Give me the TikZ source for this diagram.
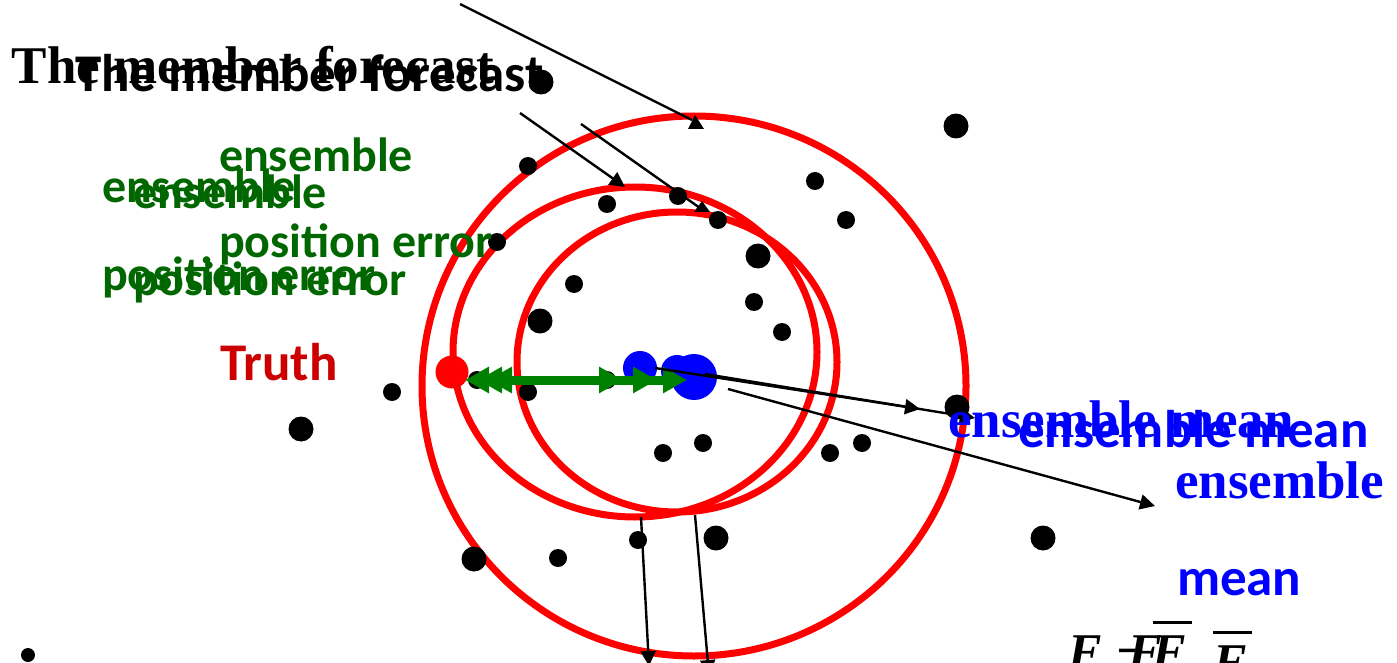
\documentclass[tikz,border=0pt]{standalone}
\usepackage{fontspec}
\setmainfont{Liberation Serif}
\newfontfamily\calfont{Carlito}
\usetikzlibrary{arrows.meta}
\definecolor{tgreen}{RGB}{0,102,0}
\definecolor{agreen}{RGB}{0,128,0}
\definecolor{truthred}{RGB}{204,0,0}
\definecolor{cred}{RGB}{255,0,0}
\definecolor{cblue}{RGB}{0,0,255}
\begin{document}
\begin{tikzpicture}[x=1pt,y=-1pt,
  every node/.style={inner sep=0pt,outer sep=0pt,anchor=base west},
  tms/.style={font=\fontsize{53}{53}\selectfont\bfseries},
  cal/.style={font=\fontsize{53}{53}\selectfont\calfont\bfseries},
  calg/.style={font=\fontsize{48}{48}\selectfont\calfont\bfseries,text=tgreen},
  mth/.style={font=\fontsize{50}{50}\selectfont\bfseries\itshape},
  ring/.style={draw=cred,line width=7pt},
  blk/.style={draw=black,line width=2.4pt},
  blkarr/.style={blk,-{Triangle[length=15pt,width=15pt]}},
  garr/.style={draw=agreen,line width=9pt,{Triangle[length=24pt,width=25pt]}-{Triangle[length=24pt,width=25pt]}}
]
\useasboundingbox (0,0) rectangle (1397,663);
\clip (0,0) rectangle (1397,663);

% red rings
\draw[ring] (694,386) ellipse [x radius=272, y radius=270];
\draw[ring] (635,352) ellipse [x radius=182, y radius=165];
\draw[ring] (677,362) ellipse [x radius=160, y radius=150];

% black arrows
\coordinate (a1s) at (460,4);   \coordinate (a1e) at (692,120);
\coordinate (a2s) at (520,113); \coordinate (a2e) at (625,187);
\coordinate (a3s) at (581,124); \coordinate (a3e) at (700,208);
\coordinate (a4s) at (655,368); \coordinate (a4e) at (920,409);
\coordinate (a4bs) at (705,374); \coordinate (a4be) at (975,418);
\coordinate (a5s) at (728,389); \coordinate (a5e) at (1155,506);
\coordinate (a6s) at (641,517); \coordinate (a6e) at (649,666);
\coordinate (a7s) at (695,515); \coordinate (a7e) at (709,675);
\draw[blk] (a1s) -- (a1e);
\fill (688,129) -- (704,129) -- (695,115) -- cycle;
\draw[blkarr] (a2s) -- (a2e);
\draw[blk] (a3s) -- (a3e);
\fill (694,212) -- (710,212) -- (702,201) -- cycle;
\draw[blkarr] (a5s) -- (a5e);
\draw[blkarr] (a6s) -- (a6e);
\draw[blkarr] (a7s) -- (a7e);

% black dots
\foreach \x/\y in {541/82,956/126,758/256,540/321,301/429,957/407,474/559,716/538,1043/538}
  \fill (\x,\y) circle (12.5);
\foreach \x/\y in {528/166,607/204,678/196,718/220,815/181,846/220,497/242,574/284,754/302,782/332,392/392,528/392,607/380,477/380,663/453,703/443,830/453,862/443,638/540,558/558}
  \fill (\x,\y) circle (9);
\fill (28,655) circle (7);

% blue dots
\fill[cblue] (640,368) circle (17);
\fill[cblue] (677,371) circle (16);
\fill[cblue] (694,377) circle (23);

% truth dot
\fill[cred] (452,372) circle (16.5);

% green double arrows
\coordinate (g1l) at (465,380); \coordinate (g1r) at (623,380);
\coordinate (g2l) at (478,380); \coordinate (g2r) at (657,380);
\coordinate (g3l) at (488,380); \coordinate (g3r) at (687,380);
\draw[garr] (g1l) -- (g1r);
\draw[garr] (g2l) -- (g2r);
\draw[garr] (g3l) -- (g3r);

% arrows from the mean
\draw[blkarr] (a4s) -- (a4e);
\draw[blkarr] (a4bs) -- (a4be);

% texts
\node[tms] (tmf1) at (12,84) {The member forecast};
\node[cal] (tmf2) at (75,92) {The member forecast};
\node[calg] (ens1) at (219,172) {ensemble};
\node[calg] (ens2) at (102,203) {ensemble};
\node[calg] (ens3) at (133,208) {ensemble};
\node[calg] (pe1) at (219,257) {position error};
\node[calg] (pe2) at (102,290) {position error};
\node[calg] (pe3) at (133,295) {position error};
\node[cal,text=truthred,font=\fontsize{53}{53}\selectfont\calfont\bfseries] (truth) at (220,380) {Truth};
\node[tms,text=cblue] (em1) at (948,437) {ensemble mean};
\node[cal,text=cblue] (em2) at (1018,447) {ensemble mean};
\node[tms,text=cblue] (em3) at (1175,498) {ensemble};
\node[cal,text=cblue] (em4) at (1177,595) {mean};

% formula
\node[mth] (f1) at (1068,668) {F};
\node[mth] (fm) at (1115,667) {−};
\node[mth] (f2) at (1128,668) {F};
\node[mth] (f3) at (1152,668) {F};
\node[mth] (f4) at (1213,678) {F};
\draw[line width=3pt] (1153,622) -- (1192,622);
\draw[line width=3pt] (1213,632) -- (1252,632);
\end{tikzpicture}
\end{document}
